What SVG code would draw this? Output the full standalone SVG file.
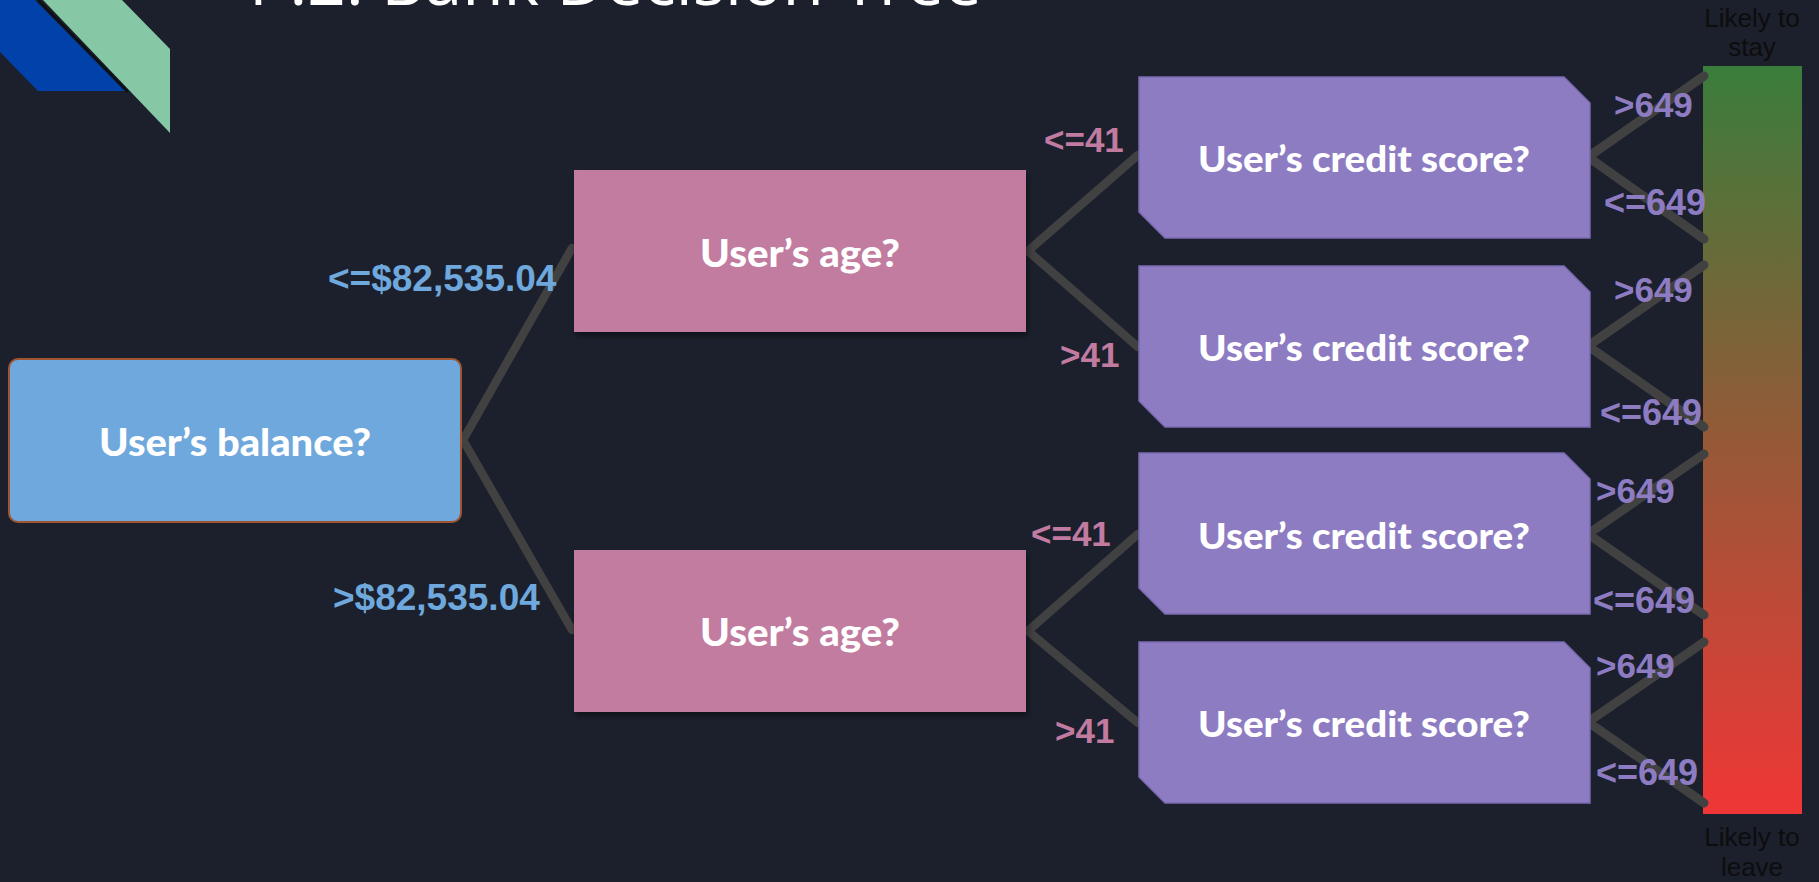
<svg xmlns="http://www.w3.org/2000/svg" width="1819" height="882" viewBox="0 0 1819 882">
<defs>
<style>
.node-t{font-family:Lato,"Noto Sans",sans-serif;font-weight:900;fill:#ffffff;text-anchor:middle}
.lbl{font-family:"Liberation Sans",Arial,sans-serif;font-weight:700}
.blue{fill:#6fa8dc}
.pink{fill:#c27ba0}
.purp{fill:#8e7cc3}
.conn{stroke:#414141;stroke-width:8.5;fill:none;stroke-linecap:round;stroke-linejoin:round}
.conn2{stroke:#414141;stroke-width:9;fill:none;stroke-linecap:round;stroke-linejoin:round}
.side{font-family:"Liberation Sans",Arial,sans-serif;font-size:26px;fill:#0d0d0d;text-anchor:middle}
.credit{fill:#8e7cc3;stroke:#7a69b2;stroke-width:1.5}
.age{fill:#c27ba0}
</style>
<linearGradient id="bar" x1="0" y1="0" x2="0" y2="1">
<stop offset="0" stop-color="#3a7d3b"/>
<stop offset="0.45" stop-color="#8c5d38"/>
<stop offset="1" stop-color="#f03636"/>
</linearGradient>
<filter id="sh" x="-10%" y="-10%" width="125%" height="130%">
<feDropShadow dx="2" dy="4" stdDeviation="3" flood-color="#000" flood-opacity="0.45"/>
</filter>
</defs>
<rect width="1819" height="882" fill="#1b202c"/>
<g id="decoration">
<polygon points="0,0 35,0 125,91 38,91 0,52" fill="#0042aa"/>
<polygon points="43,0 122,0 170,49 170,133" fill="#86c7a6"/>
<line x1="38" y1="0" x2="128" y2="92" stroke="#0e1118" stroke-width="3"/>
</g>
<text id="title" x="249" y="5" font-family="'Open Sans','Liberation Sans',sans-serif" font-weight="400" font-size="68" fill="#ffffff" textLength="733" lengthAdjust="spacingAndGlyphs">P.2. Bank Decision Tree</text>
<g id="scale">
<rect x="1703" y="66" width="99" height="748" fill="url(#bar)"/>
<text class="side" x="1752" y="27">Likely to</text>
<text class="side" x="1752" y="56">stay</text>
<text class="side" x="1752" y="846">Likely to</text>
<text class="side" x="1752" y="876">leave</text>
</g>
<g id="connectors">
<polyline class="conn" points="572,248 463,440 572,630"/>
<polyline class="conn" points="1138,155 1028,251 1138,347"/>
<polyline class="conn" points="1138,534 1028,631 1138,723"/>
<polyline class="conn2" points="1704,76 1588,157 1704,239"/>
<polyline class="conn2" points="1704,265 1588,346 1704,427"/>
<polyline class="conn2" points="1704,454 1588,534 1704,615"/>
<polyline class="conn2" points="1704,642 1588,722 1704,803"/>
</g>
<g id="edge-labels">
<text class="lbl blue" x="328" y="291" font-size="37">&lt;=$82,535.04</text>
<text class="lbl blue" x="333" y="610" font-size="37">&gt;$82,535.04</text>
<text class="lbl pink" x="1044" y="152" font-size="35">&lt;=41</text>
<text class="lbl pink" x="1060" y="367" font-size="35">&gt;41</text>
<text class="lbl pink" x="1031" y="546" font-size="35">&lt;=41</text>
<text class="lbl pink" x="1055" y="743" font-size="35">&gt;41</text>
<text class="lbl purp" x="1614" y="117" font-size="35">&gt;649</text>
<text class="lbl purp" x="1604" y="215" font-size="36">&lt;=649</text>
<text class="lbl purp" x="1614" y="302" font-size="35">&gt;649</text>
<text class="lbl purp" x="1600" y="425" font-size="36">&lt;=649</text>
<text class="lbl purp" x="1596" y="503" font-size="35">&gt;649</text>
<text class="lbl purp" x="1593" y="613" font-size="36">&lt;=649</text>
<text class="lbl purp" x="1596" y="678" font-size="35">&gt;649</text>
<text class="lbl purp" x="1596" y="785" font-size="36">&lt;=649</text>
</g>
<g id="node-balance">
<rect x="9" y="359" width="452" height="163" rx="9" fill="#6fa8dc" stroke="#a0552e" stroke-width="2"/>
<text class="node-t" x="235" y="456" font-size="38" textLength="272" lengthAdjust="spacingAndGlyphs">User’s balance?</text>
</g>
<g id="node-age-1">
<rect class="age" x="574" y="170" width="452" height="162" filter="url(#sh)"/>
<text class="node-t" x="800" y="267" font-size="38" textLength="200" lengthAdjust="spacingAndGlyphs">User’s age?</text>
</g>
<g id="node-age-2">
<rect class="age" x="574" y="550" width="452" height="162" filter="url(#sh)"/>
<text class="node-t" x="800" y="646" font-size="38" textLength="200" lengthAdjust="spacingAndGlyphs">User’s age?</text>
</g>
<g id="node-credit-1">
<polygon class="credit" points="1139,77 1564,77 1590,103 1590,238 1165,238 1139,212"/>
<text class="node-t" x="1364" y="172" font-size="36" textLength="332" lengthAdjust="spacingAndGlyphs">User’s credit score?</text>
</g>
<g id="node-credit-2">
<polygon class="credit" points="1139,266 1564,266 1590,292 1590,427 1165,427 1139,401"/>
<text class="node-t" x="1364" y="361" font-size="36" textLength="332" lengthAdjust="spacingAndGlyphs">User’s credit score?</text>
</g>
<g id="node-credit-3">
<polygon class="credit" points="1139,453 1564,453 1590,479 1590,614 1165,614 1139,588"/>
<text class="node-t" x="1364" y="549" font-size="36" textLength="332" lengthAdjust="spacingAndGlyphs">User’s credit score?</text>
</g>
<g id="node-credit-4">
<polygon class="credit" points="1139,642 1564,642 1590,668 1590,803 1165,803 1139,777"/>
<text class="node-t" x="1364" y="737" font-size="36" textLength="332" lengthAdjust="spacingAndGlyphs">User’s credit score?</text>
</g>
</svg>
